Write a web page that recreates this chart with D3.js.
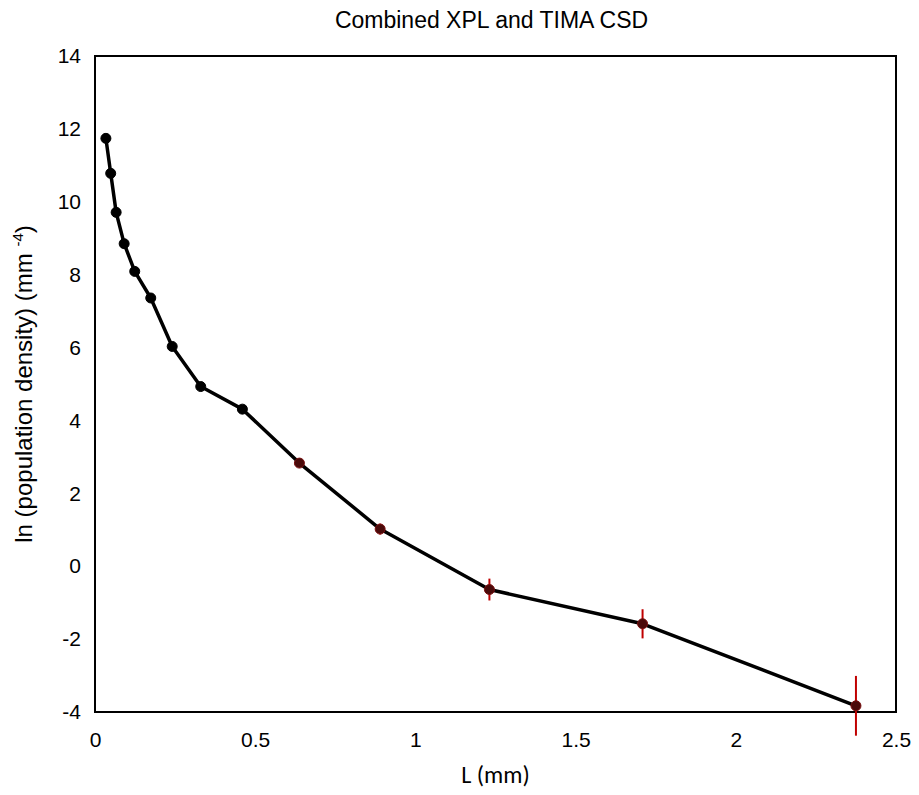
<!DOCTYPE html>
<html>
<head>
<meta charset="utf-8">
<script src="https://d3js.org/d3.v7.min.js"></script>
<style>
  body { margin: 0; background: #fff; }
  text { font-family: "Liberation Sans", Arial, sans-serif; fill: #000; }
</style>
</head>
<body>
<svg id="chart" width="919" height="795"></svg>
<script>
// L (mm) and ln(population density)
var lengths = [0.034, 0.049, 0.066, 0.091, 0.124, 0.174, 0.241, 0.33, 0.46, 0.638, 0.89, 1.231, 1.709, 2.375];
var lnDensity = [11.74, 10.78, 9.71, 8.85, 8.09, 7.36, 6.03, 4.93, 4.31, 2.83, 1.02, -0.64, -1.58, -3.83];
// error bar half-widths (0 = none, XPL points)
var errors = [0, 0, 0, 0, 0, 0, 0, 0, 0, 0.1, 0.15, 0.3, 0.4, 0.82];

var xTicks = [0, 0.5, 1, 1.5, 2, 2.5];
var yTicks = [-4, -2, 0, 2, 4, 6, 8, 10, 12, 14];

var svg = d3.select('#chart');
var mLeft = 95, mRight = 896, mTop = 56, mBottom = 712;

var x = d3.scaleLinear().domain([0, 2.5]).range([mLeft, mRight]);
var y = d3.scaleLinear().domain([-4, 14]).range([mBottom, mTop]);

var data = lengths.map(function(d, i) {
	return { x: d, y: lnDensity[i], e: errors[i] };
});

// plain hyphen for negatives, like the original
var fmt = function(d) { return String(d); };

// frame
svg.append('rect')
	.attr('x', mLeft).attr('y', mTop)
	.attr('width', mRight - mLeft).attr('height', mBottom - mTop)
	.attr('fill', 'none').attr('stroke', '#000').attr('stroke-width', 2);

// tick labels
var xAxis = svg.append('g')
	.attr('transform', 'translate(0,' + mBottom + ')')
	.call(d3.axisBottom(x).tickValues(xTicks).tickSize(0).tickPadding(20).tickFormat(fmt));
var yAxis = svg.append('g')
	.attr('transform', 'translate(' + mLeft + ',0)')
	.call(d3.axisLeft(y).tickValues(yTicks).tickSize(0).tickPadding(14).tickFormat(fmt));
[xAxis, yAxis].forEach(function(a) {
	a.select('.domain').remove();
	a.selectAll('text').style('font-size', '21px').style('font-family', '"Liberation Sans", Arial, sans-serif');
});

// title
svg.append('text')
	.attr('x', (mLeft + mRight) / 2 - 4).attr('y', 28)
	.attr('text-anchor', 'middle')
	.style('font-size', '23px')
	.text('Combined XPL and TIMA CSD');

// axis titles
svg.append('text')
	.attr('x', (mLeft + mRight) / 2).attr('y', 783)
	.attr('text-anchor', 'middle')
	.style('font-size', '24px')
	.style('font-family', 'Carlito, "Liberation Sans", sans-serif')
	.text('L (mm)');

var yl = svg.append('text')
	.attr('transform', 'translate(32,' + ((mTop + mBottom) / 2) + ') rotate(-90)')
	.attr('text-anchor', 'middle')
	.style('font-size', '24px');
yl.append('tspan').text('ln (population density) (mm ');
yl.append('tspan').attr('dy', -9).style('font-size', '15px').text('-4');
yl.append('tspan').attr('dy', 9).text(')');

// line
svg.append('path')
	.datum(data)
	.attr('fill', 'none')
	.attr('stroke', '#000')
	.attr('stroke-width', 3.5)
	.attr('stroke-linejoin', 'round')
	.attr('d', d3.line().x(function(d) { return x(d.x); }).y(function(d) { return y(d.y); }));

// error bars
svg.selectAll('.err')
	.data(data.filter(function(d) { return d.e > 0; }))
	.enter().append('line')
	.attr('class', 'err')
	.attr('x1', function(d) { return x(d.x); })
	.attr('x2', function(d) { return x(d.x); })
	.attr('y1', function(d) { return y(d.y - d.e); })
	.attr('y2', function(d) { return y(d.y + d.e); })
	.attr('stroke', '#c00000')
	.attr('stroke-width', 2);

// markers
svg.selectAll('.pt')
	.data(data)
	.enter().append('circle')
	.attr('class', 'pt')
	.attr('cx', function(d) { return x(d.x); })
	.attr('cy', function(d) { return y(d.y); })
	.attr('r', 5)
	.attr('fill', function(d) { return d.e > 0 ? '#4a0a0a' : '#000'; })
	.attr('stroke', function(d) { return d.e > 0 ? '#7a1010' : '#000'; })
	.attr('stroke-width', 1);
</script>
</body>
</html>
